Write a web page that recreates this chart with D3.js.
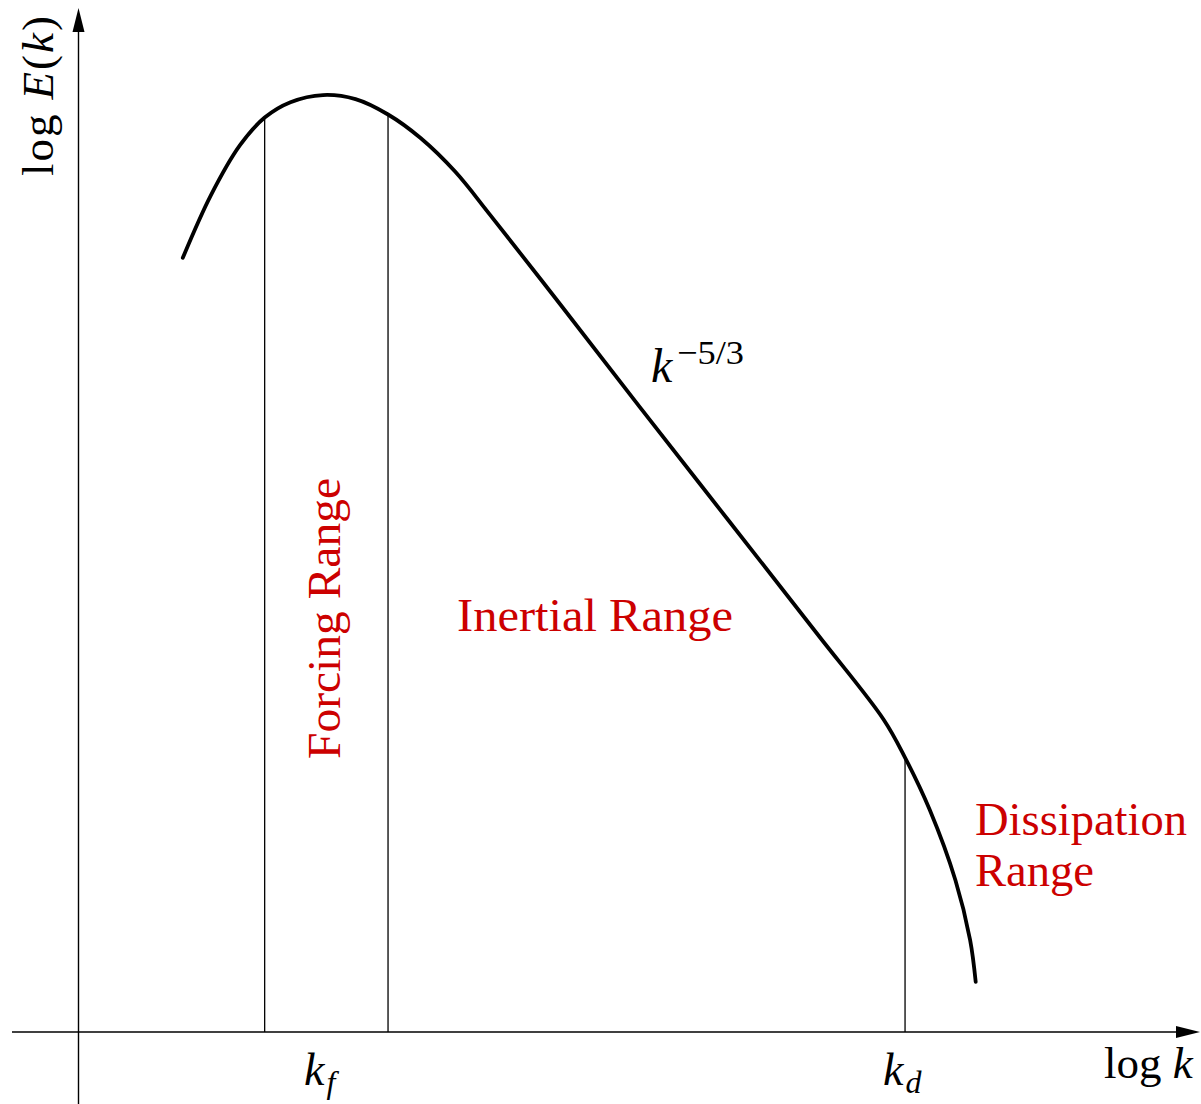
<!DOCTYPE html>
<html>
<head>
<meta charset="utf-8">
<script src="https://cdn.jsdelivr.net/npm/d3@7"></script>
<style>
  body { margin: 0; background: #fff; }
  text { font-family: "Liberation Serif", "Times New Roman", serif; }
</style>
</head>
<body>
<svg id="spectrum"></svg>
<script>
// schematic spectrum, in (log k, log E) units
var logK = [0.93, 1.18, 1.44, 1.66, 1.89, 2.18, 2.47, 2.76, 3.05, 3.36, 3.67, 4.3, 5.0, 5.8, 6.6, 7.18, 7.37, 7.59, 7.82, 7.95, 8.0];
var logE = [7.56, 8.17, 8.66, 8.93, 9.08, 9.15, 9.11, 8.96, 8.73, 8.40, 7.98, 7.10, 6.11, 4.99, 3.87, 3.05, 2.68, 2.17, 1.48, 0.90, 0.49];

// vertical markers: kf band edges and kd
var markerK = [1.66, 2.76, 7.37];
var markerE = [8.93, 8.96, 2.68];

var width = 1201, height = 1104;

var svg = d3.select('#spectrum')
    .attr('width', width)
    .attr('height', height);

var x = d3.scaleLinear().domain([0, 10]).range([78.5, 1200]);
var y = d3.scaleLinear().domain([0, 10]).range([1032, 8]);

/** axes with arrow heads */
svg.append('line')
    .attr('x1', 12).attr('x2', x(10) - 10)
    .attr('y1', y(0)).attr('y2', y(0))
    .style('stroke', '#000').style('stroke-width', 1.4);
svg.append('line')
    .attr('x1', x(0)).attr('x2', x(0))
    .attr('y1', height).attr('y2', y(10) + 10)
    .style('stroke', '#000').style('stroke-width', 1.4);

svg.append('path')
    .attr('d', `M${x(10)},${y(0)} L${x(10) - 24},${y(0) - 6} L${x(10) - 24},${y(0) + 6} Z`)
    .style('fill', '#000');
svg.append('path')
    .attr('d', `M${x(0)},${y(10)} L${x(0) - 6},${y(10) + 24} L${x(0) + 6},${y(10) + 24} Z`)
    .style('fill', '#000');

/** marker lines from axis up to the curve */
svg.selectAll('.marker')
  .data(markerK)
  .enter().append('line')
    .attr('class', 'marker')
    .attr('x1', d => x(d)).attr('x2', d => x(d))
    .attr('y1', y(0))
    .attr('y2', (d, i) => y(markerE[i]))
    .style('stroke', '#000')
    .style('stroke-width', 1.3);

/** the spectrum curve */
var pts = logK.map((k, i) => [k, logE[i]]);
var line = d3.line()
    .x(d => x(d[0]))
    .y(d => y(d[1]))
    .curve(d3.curveCatmullRom.alpha(0.5));

svg.append('path')
    .datum(pts)
    .attr('d', line)
    .style('fill', 'none')
    .style('stroke', '#000')
    .style('stroke-width', 3.8)
    .style('stroke-linecap', 'round');

/** axis labels */
var ylab = svg.append('text')
    .attr('transform', 'translate(53,176) rotate(-90)')
    .attr('textLength', 160).attr('lengthAdjust', 'spacing')
    .style('font-size', '45px');
ylab.append('tspan').text('log ');
ylab.append('tspan').style('font-style', 'italic').text('E');
ylab.append('tspan').text('(');
ylab.append('tspan').style('font-style', 'italic').text('k');
ylab.append('tspan').text(')');

var xlab = svg.append('text')
    .attr('x', 1104).attr('y', 1078)
    .style('font-size', '45px');
xlab.append('tspan').text('log ');
xlab.append('tspan').style('font-style', 'italic').text('k');

/** kf and kd */
var kLabels = [
  {k: 'k', sub: 'f', x: 304},
  {k: 'k', sub: 'd', x: 883}
];
kLabels.forEach(function(d) {
  var t = svg.append('text')
      .attr('x', d.x).attr('y', 1085)
      .style('font-size', '46px')
      .style('font-style', 'italic');
  t.append('tspan').text(d.k);
  t.append('tspan').attr('dx', 2).attr('dy', 8).style('font-size', '32px').text(d.sub);
});

/** slope label */
svg.append('text')
    .attr('x', 651).attr('y', 382)
    .style('font-size', '48px')
    .style('font-style', 'italic')
    .text('k');
svg.append('text')
    .attr('x', 677).attr('y', 364)
    .attr('textLength', 67).attr('lengthAdjust', 'spacingAndGlyphs')
    .style('font-size', '34px')
    .text('\u22125/3');

/** range labels */
var red = '#cc0000';
svg.append('text')
    .attr('x', 457).attr('y', 631)
    .attr('textLength', 276).attr('lengthAdjust', 'spacingAndGlyphs')
    .style('font-size', '47px')
    .style('fill', red)
    .text('Inertial Range');

svg.append('text')
    .attr('transform', 'translate(340,759) rotate(-90)')
    .attr('textLength', 281).attr('lengthAdjust', 'spacingAndGlyphs')
    .style('font-size', '47px')
    .style('fill', red)
    .text('Forcing Range');

svg.append('text')
    .attr('x', 975).attr('y', 835)
    .attr('textLength', 212).attr('lengthAdjust', 'spacingAndGlyphs')
    .style('font-size', '47px')
    .style('fill', red)
    .text('Dissipation');

svg.append('text')
    .attr('x', 975).attr('y', 886)
    .attr('textLength', 119).attr('lengthAdjust', 'spacingAndGlyphs')
    .style('font-size', '47px')
    .style('fill', red)
    .text('Range');
</script>
</body>
</html>
